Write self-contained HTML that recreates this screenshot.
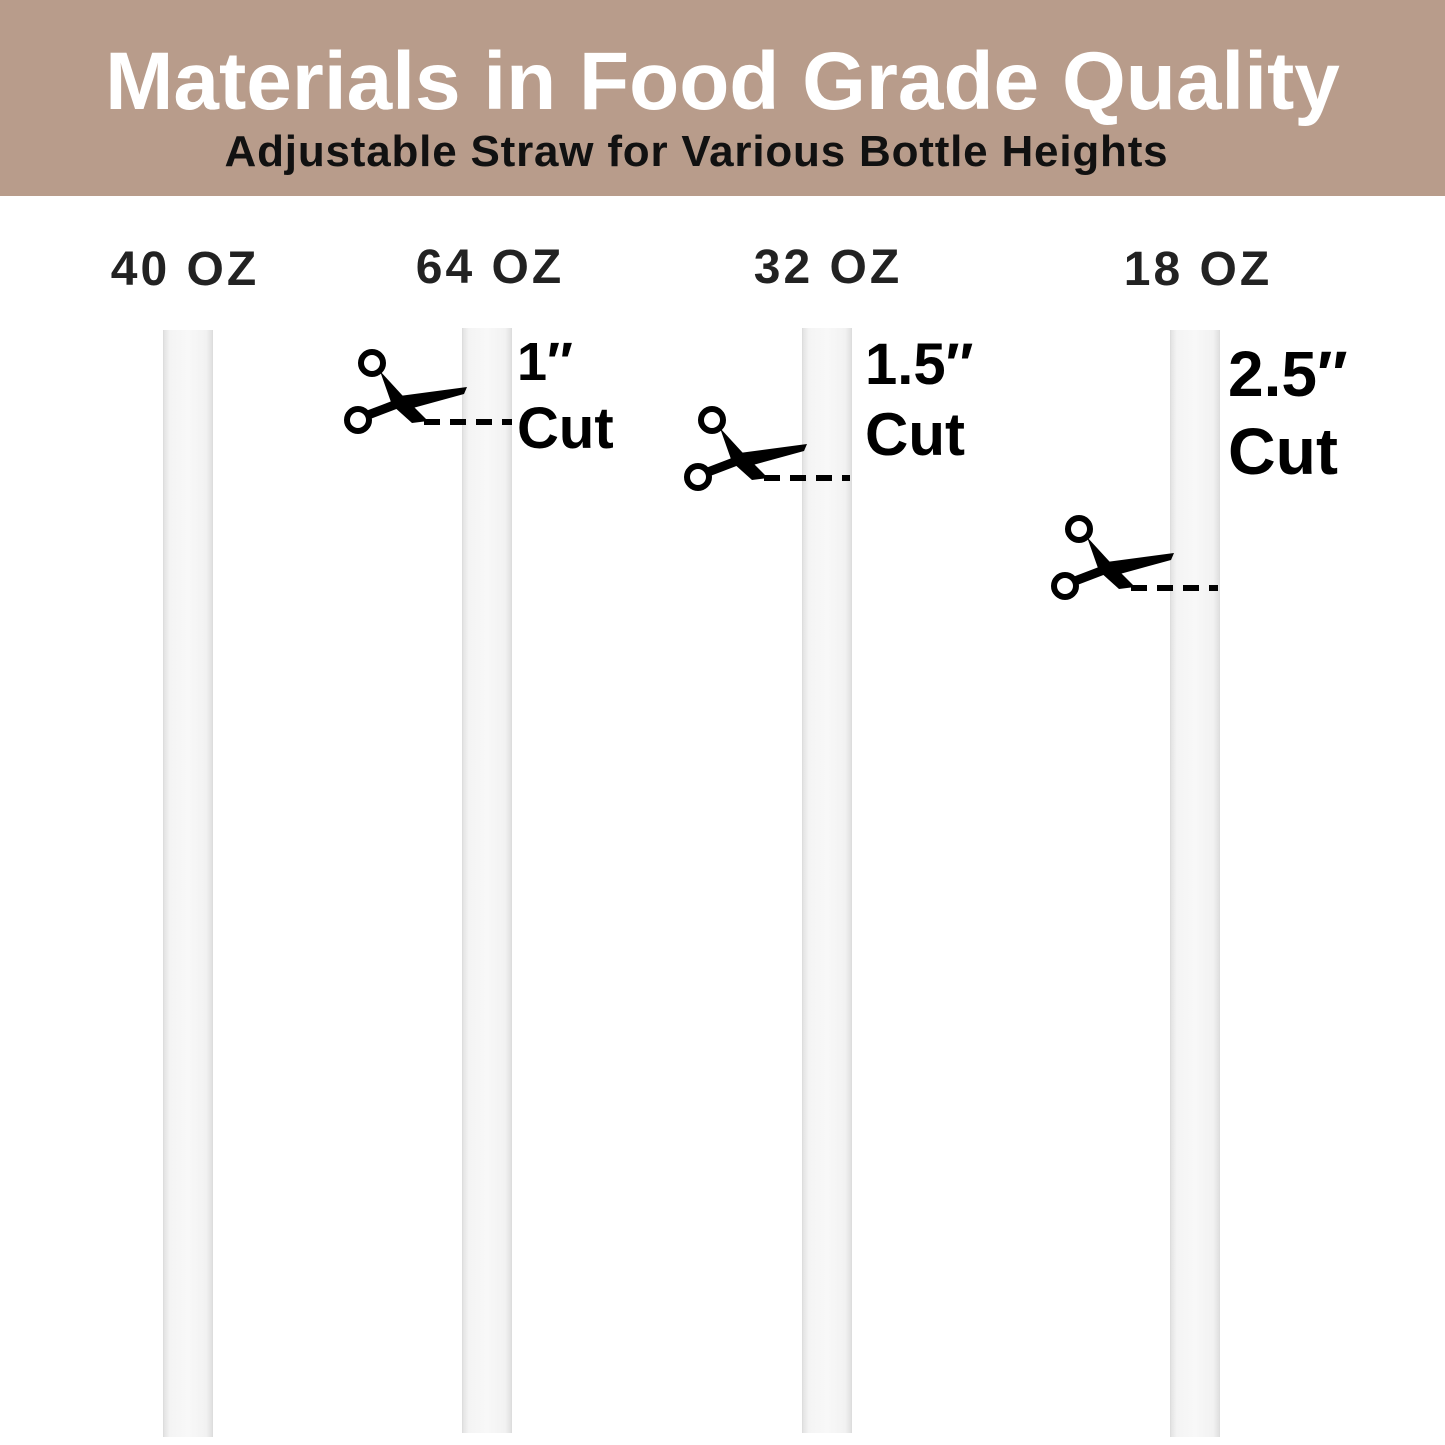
<!DOCTYPE html>
<html><head><style>
body{margin:0;width:1445px;height:1445px;background:#fff;position:relative;overflow:hidden;font-family:"Liberation Sans",sans-serif}
.hdr{position:absolute;left:0;top:0;width:1445px;height:196px;background:#b89c8b}
.t1{position:absolute;left:0;width:1445px;top:34px;text-align:center;color:#fff;font-weight:bold;font-size:82px;line-height:96px;letter-spacing:0px}
.t2{position:absolute;left:0;width:1393px;top:127px;text-align:center;color:#111;font-weight:bold;font-size:44px;line-height:50px;letter-spacing:0.8px}
.oz{position:absolute;top:242px;font-weight:900;font-size:48px;color:#222;transform:translateX(-50%);letter-spacing:3px;white-space:nowrap}
.st{position:absolute;width:48px;background:linear-gradient(90deg,#e3e3e3 0,#f4f4f4 12%,#f8f8f8 50%,#f2f2f2 88%,#e0e0e0 100%);border-left:1px solid #ddd;border-right:1px solid #ddd}
.lb{position:absolute;font-weight:bold;color:#000;line-height:1}
svg{position:absolute}
</style></head><body>
<div class="hdr"></div>
<div class="t1">Materials in Food Grade Quality</div>
<div class="t2">Adjustable Straw for Various Bottle Heights</div>
<div class="oz" style="left:185px">40 OZ</div>
<div class="oz" style="left:490px;top:240px">64 OZ</div>
<div class="oz" style="left:828px;top:240px">32 OZ</div>
<div class="oz" style="left:1198px">18 OZ</div>
<div class="st" style="left:163px;top:330px;height:1107px"></div>
<div class="st" style="left:462px;top:328px;height:1105px"></div>
<div class="st" style="left:802px;top:328px;height:1105px"></div>
<div class="st" style="left:1170px;top:330px;height:1107px"></div>
<svg width="0" height="0"><defs><g id="sc">
<circle cx="32" cy="16" r="11" fill="none" stroke="#000" stroke-width="6"/>
<circle cx="18" cy="73" r="11" fill="none" stroke="#000" stroke-width="6"/>
<path d="M40 24 L62 48 L88 74 L72 76 L52 58 Z" fill="#000"/>
<line x1="28" y1="68" x2="62" y2="55" stroke="#000" stroke-width="9"/>
<polygon points="52,50 127,40 124,47 62,64" fill="#000"/>
</g></defs></svg>
<svg style="left:340px;top:347px" width="175" height="95"><use href="#sc"/><path d="M84 75H172" stroke="#000" stroke-width="6" stroke-dasharray="16 10"/></svg>
<svg style="left:680px;top:404px" width="175" height="95"><use href="#sc"/><path d="M84 74H170" stroke="#000" stroke-width="6" stroke-dasharray="16 10"/></svg>
<svg style="left:1047px;top:513px" width="175" height="95"><use href="#sc"/><path d="M84 75H171" stroke="#000" stroke-width="6" stroke-dasharray="16 10"/></svg>
<div class="lb" style="left:517px;top:335px;font-size:54px">1″</div>
<div class="lb" style="left:517px;top:400px;font-size:58px">Cut</div>
<div class="lb" style="left:865px;top:336px;font-size:58px">1.5″</div>
<div class="lb" style="left:865px;top:405px;font-size:60px">Cut</div>
<div class="lb" style="left:1228px;top:342px;font-size:64px">2.5″</div>
<div class="lb" style="left:1228px;top:418px;font-size:66px">Cut</div>
</body></html>
